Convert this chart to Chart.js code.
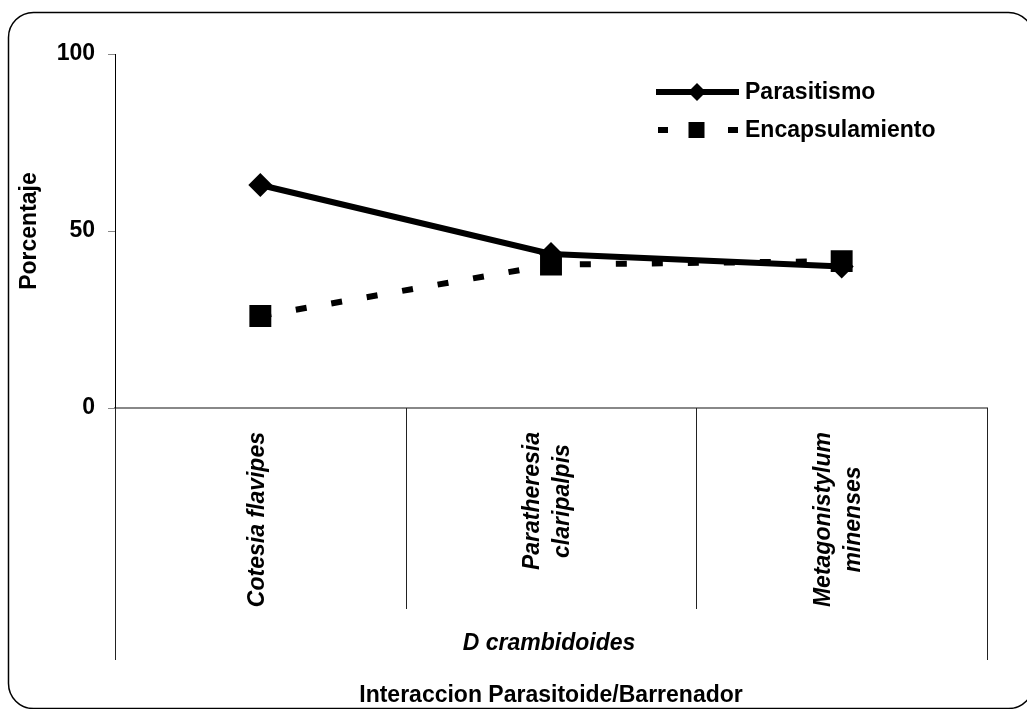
<!DOCTYPE html>
<html>
<head>
<meta charset="utf-8">
<script src="https://cdn.jsdelivr.net/npm/chart.js@4.4.1/dist/chart.umd.min.js"></script>
<style>
  html, body { margin: 0; padding: 0; background: #fff; }
  #wrap { width: 1027px; height: 709px; position: relative; }
  canvas { display: block; }
</style>
</head>
<body>
<div id="wrap"><canvas id="chart" width="1027" height="709"></canvas></div>
<script>
// Parasitoid species (multi-line labels) and host group
const categories = [
  ['Cotesia flavipes'],
  ['Paratheresia', 'claripalpis'],
  ['Metagonistylum', 'minenses']
];
const groupLabel = 'D crambidoides';

// Percentages per parasitoid
const parasitismo = [63, 43.5, 40];
const encapsulamiento = [26, 40.5, 41.5];

// Y axis tick values
const yTicks = [0, 50, 100];

const FONT = "'Liberation Sans', Arial, Helvetica, sans-serif";

// White background and rounded outer frame
const framePlugin = {
  id: 'frame',
  beforeDraw(chart) {
    const ctx = chart.ctx;
    ctx.save();
    ctx.fillStyle = '#fff';
    ctx.fillRect(0, 0, chart.width, chart.height);
    ctx.beginPath();
    ctx.roundRect(8.5, 12.5, 1025, 696, 25);
    ctx.lineWidth = 1.5;
    ctx.strokeStyle = '#000';
    ctx.stroke();
    ctx.restore();
  }
};

// Category separators, rotated species names and the host group row
const categoryAxisPlugin = {
  id: 'categoryAxis',
  afterDraw(chart) {
    const { ctx, chartArea, scales: { x } } = chart;
    const n = categories.length;
    const half = (x.getPixelForValue(1) - x.getPixelForValue(0)) / 2;
    const base = chartArea.bottom;
    ctx.save();
    ctx.strokeStyle = '#222';
    ctx.lineWidth = 1;
    for (let i = 0; i <= n; i++) {
      const px = Math.round(i < n ? x.getPixelForValue(i) - half : x.getPixelForValue(n - 1) + half) + 0.5;
      const outer = (i === 0 || i === n);
      ctx.beginPath();
      ctx.moveTo(px, base);
      ctx.lineTo(px, base + (outer ? 252 : 201));
      ctx.stroke();
    }

    ctx.fillStyle = '#000';
    ctx.font = `italic bold 23px ${FONT}`;
    ctx.textAlign = 'center';
    ctx.textBaseline = 'middle';
    categories.forEach((lines, i) => {
      const cx = x.getPixelForValue(i);
      const maxW = Math.max(...lines.map(t => ctx.measureText(t).width));
      const cy = base + 24 + maxW / 2;
      lines.forEach((t, j) => {
        const off = (j - (lines.length - 1) / 2) * 30 - 3;
        ctx.save();
        ctx.translate(cx + off, cy);
        ctx.rotate(-Math.PI / 2);
        ctx.fillText(t, 0, 0);
        ctx.restore();
      });
    });

    ctx.fillText(groupLabel, (chartArea.left + chartArea.right) / 2 - 2, base + 236);
    ctx.restore();
  }
};

// Legend drawn with each series' line and marker style
const legendPlugin = {
  id: 'seriesLegend',
  afterDraw(chart) {
    const ctx = chart.ctx;
    const ds = chart.data.datasets;
    ctx.save();
    ctx.strokeStyle = '#000';
    ctx.fillStyle = '#000';

    // Parasitismo: solid line with diamond
    ctx.lineWidth = 6;
    ctx.setLineDash([]);
    ctx.beginPath();
    ctx.moveTo(656, 92);
    ctx.lineTo(739, 92);
    ctx.stroke();
    ctx.beginPath();
    ctx.moveTo(697, 83); ctx.lineTo(706, 92); ctx.lineTo(697, 101); ctx.lineTo(688, 92);
    ctx.closePath();
    ctx.fill();

    // Encapsulamiento: dashed line with square
    ctx.lineWidth = 6;
    ctx.setLineDash([10, 25]);
    ctx.beginPath();
    ctx.moveTo(658, 130);
    ctx.lineTo(738, 130);
    ctx.stroke();
    ctx.setLineDash([]);
    ctx.fillRect(688.5, 122, 16, 16);

    ctx.font = `bold 23px ${FONT}`;
    ctx.textAlign = 'left';
    ctx.textBaseline = 'middle';
    ctx.fillText(ds[0].label, 745, 93);
    ctx.fillText(ds[1].label, 745, 131);
    ctx.restore();
  }
};

new Chart(document.getElementById('chart'), {
  type: 'line',
  data: {
    labels: categories.map(l => l.join(' ')),
    datasets: [
      {
        label: 'Parasitismo',
        data: parasitismo,
        borderColor: '#000',
        backgroundColor: '#000',
        borderWidth: 6,
        tension: 0,
        fill: false,
        pointStyle: 'rectRot',
        pointRadius: 12,
        pointBorderWidth: 0,
        pointBackgroundColor: '#000'
      },
      {
        label: 'Encapsulamiento',
        data: encapsulamiento,
        borderColor: '#000',
        backgroundColor: '#000',
        borderWidth: 6,
        borderDash: [11, 25],
        tension: 0,
        fill: false,
        pointStyle: 'rect',
        pointRadius: 15.5,
        pointBorderWidth: 0,
        pointBackgroundColor: '#000'
      }
    ]
  },
  options: {
    responsive: false,
    animation: false,
    devicePixelRatio: 1,
    layout: { padding: { left: 0, right: 40, top: 54, bottom: 0 } },
    plugins: {
      legend: { display: false },
      tooltip: { enabled: false }
    },
    scales: {
      x: {
        type: 'category',
        offset: true,
        grid: { display: false },
        border: { display: true, color: '#888', width: 2 },
        ticks: { display: false },
        title: {
          display: true,
          text: 'Interaccion Parasitoide/Barrenador',
          color: '#000',
          font: { family: FONT, size: 23, weight: 'bold' },
          padding: { top: 0, bottom: 0 }
        },
        afterFit(scale) { scale.height = 301; }
      },
      y: {
        min: 0,
        max: 100,
        afterBuildTicks(scale) { scale.ticks = yTicks.map(v => ({ value: v })); },
        ticks: {
          color: '#000',
          padding: 13,
          font: { family: FONT, size: 23, weight: 'bold' }
        },
        grid: { drawOnChartArea: false, drawTicks: true, tickLength: 7, color: '#888' },
        border: { display: true, color: '#000', width: 1 },
        title: {
          display: true,
          text: 'Porcentaje',
          color: '#000',
          font: { family: FONT, size: 23, weight: 'bold' },
          padding: { top: 16, bottom: 0 }
        },
        afterFit(scale) { scale.width = 115; }
      }
    }
  },
  plugins: [framePlugin, categoryAxisPlugin, legendPlugin]
});
</script>
</body>
</html>
